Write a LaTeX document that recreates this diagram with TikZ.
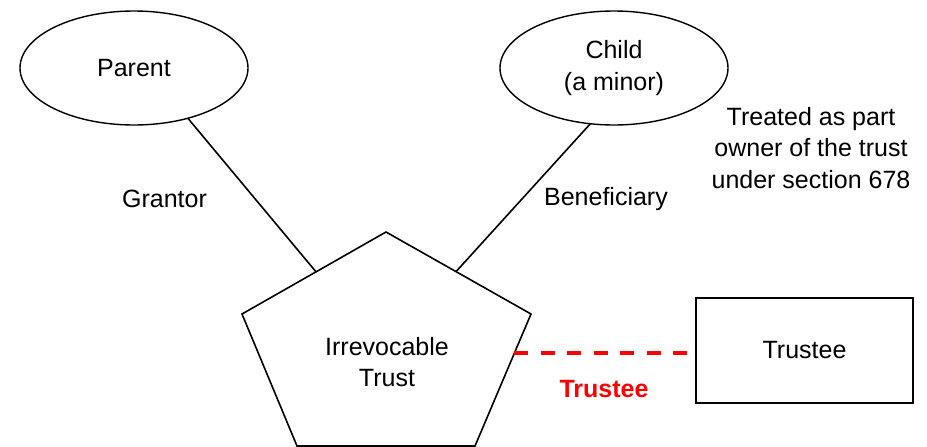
\documentclass[tikz,border=0pt]{standalone}
\usepackage{fontspec}
\setmainfont{Liberation Sans}
\usetikzlibrary{shapes.geometric,calc}
\begin{document}
\begin{tikzpicture}[x=1pt,y=-1pt,
  txt/.style={font=\fontsize{25}{31.5}\selectfont, align=center, inner sep=0pt},
  oval/.style={draw, ellipse, line width=1.4pt, minimum width=228pt, minimum height=114pt, inner sep=0pt, outer sep=0pt, font=\fontsize{25}{32.5}\selectfont, align=center},
  link/.style={line width=1.6pt},
  boxstyle/.style={draw, line width=1.8pt, minimum width=217pt, minimum height=105pt, inner sep=0pt, outer sep=0pt, font=\fontsize{25}{31.5}\selectfont},
  redlink/.style={draw=red, line width=4.3pt, dash pattern=on 14pt off 12.5pt},
  redtxt/.style={font=\fontsize{25}{31.5}\selectfont\bfseries, text=red, inner sep=0pt}]
\useasboundingbox (0,0) rectangle (927,447);
% ellipses
\node[oval] (parent) at (134,68) {Parent};
\node[oval] (child) at (614,68) {Child\\(a minor)};
% pentagon
\coordinate (T) at (386,232);
\coordinate (L) at (242,314);
\coordinate (R) at (531,314);
\coordinate (BL) at (297,446);
\coordinate (BR) at (475,446);
\draw[link, line join=miter] (T) -- (R) -- (BR) -- (BL) -- (L) -- cycle;
\node[txt] (trust) at (387,362) {Irrevocable\\Trust};
\coordinate (pl) at ($(T)!0.486!(L)$);
\coordinate (pr) at ($(T)!0.483!(R)$);
\coordinate (pd) at ($(R)!0.295!(BR)$);
% trustee box
\node[boxstyle] (trustee) at (804.5,350.5) {Trustee};
% connectors
\draw[link] (parent.-43) -- (pl);
\draw[link] (child.-113) -- (pr);
\draw[redlink, shorten >=8pt] (pd) -- (pd -| trustee.west);
% labels
\node[txt] (grantor) at (164.5,199) {Grantor};
\node[txt] (benef) at (606,199) {Beneficiary};
\node[txt] (treated) at (811,148) {Treated as part\\owner of the trust\\under section 678};
\node[redtxt] (trlabel) at (604,389) {Trustee};
\end{tikzpicture}
\end{document}
